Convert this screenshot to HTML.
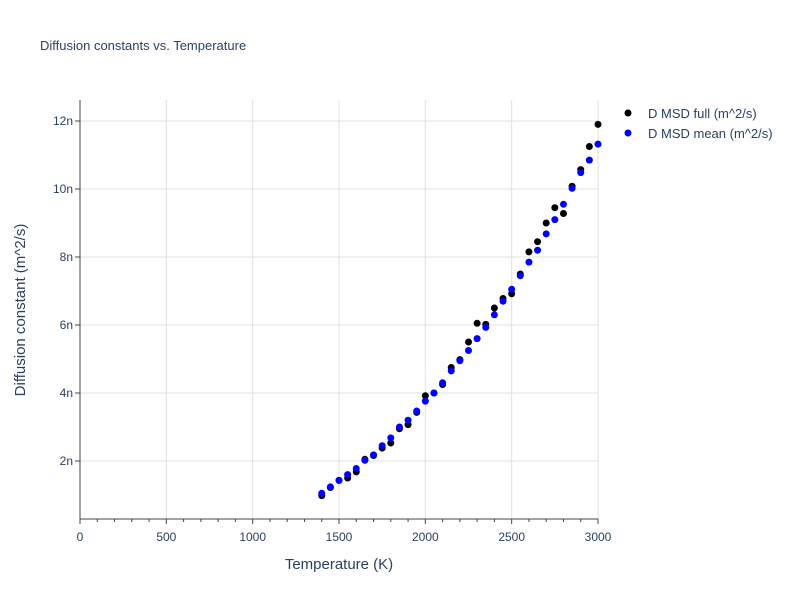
<!DOCTYPE html>
<html><head><meta charset="utf-8"><style>
body{margin:0;background:#fff;font-family:"Liberation Sans",sans-serif;}
svg text{font-family:"Liberation Sans",sans-serif;fill:#2a3f5f;}
</style></head><body>
<svg id="chart" width="800" height="600">
<rect width="800" height="600" fill="#fff"/>
<text x="40" y="50" font-size="13">Diffusion constants vs. Temperature</text>
<g id="grid"></g><g id="axes"></g><g id="marks"></g>
<text x="339" y="569" font-size="15" text-anchor="middle">Temperature (K)</text>
<text transform="translate(25,310) rotate(-90)" font-size="15" text-anchor="middle">Diffusion constant (m^2/s)</text>
<g>
<g><circle cx="628" cy="113" r="3.5" fill="#000"/><text x="648" y="118" font-size="13">D MSD full (m^2/s)</text></g>
<g><circle cx="628" cy="133" r="3.5" fill="#00f"/><text x="648" y="138" font-size="13">D MSD mean (m^2/s)</text></g>
</g>
</svg>
<script>
const temps=[1400,1450,1500,1550,1600,1650,1700,1750,1800,1850,1900,1950,2000,2050,2100,2150,2200,2250,2300,2350,2400,2450,2500,2550,2600,2650,2700,2750,2800,2850,2900,2950,3000];
const dFull=[0.98,1.22,1.43,1.50,1.68,2.05,2.16,2.38,2.53,2.95,3.07,3.43,3.92,4.00,4.25,4.75,4.98,5.50,6.05,6.02,6.50,6.78,6.92,7.50,8.15,8.45,9.00,9.45,9.28,10.08,10.57,11.25,11.90];
const dMean=[1.05,1.24,1.43,1.60,1.78,2.02,2.18,2.45,2.68,3.00,3.20,3.47,3.76,4.00,4.30,4.65,4.95,5.25,5.60,5.93,6.30,6.70,7.05,7.45,7.85,8.20,8.68,9.10,9.55,10.02,10.48,10.85,11.32];
const xTicks=[0,500,1000,1500,2000,2500,3000];
const yTicks=[2,4,6,8,10,12];
const yLabels=["2n","4n","6n","8n","10n","12n"];
const NS="http://www.w3.org/2000/svg";
const X=v=>80+v*518/3000;
const Y=v=>529-v*34;
function mk(t,a,p){const e=document.createElementNS(NS,t);for(const k in a)e.setAttribute(k,a[k]);p.appendChild(e);return e;}
const grid=document.getElementById('grid'),axes=document.getElementById('axes'),marks=document.getElementById('marks');
xTicks.forEach(t=>{
 if(t>0){const l=mk('line',{x1:X(t),x2:X(t),y1:100,y2:519,stroke:'#e0e0e0'},grid);
 
 }
 const tk=mk('line',{x1:X(t),x2:X(t),y1:519,y2:524,stroke:'#444'},axes);
 
 
 const tx=mk('text',{x:X(t),y:541,'font-size':12,'text-anchor':'middle'},axes);tx.textContent=t;
 
 
});
for(let t=100;t<3000;t+=100){if(t%500){const m=mk('line',{x1:X(t),x2:X(t),y1:519,y2:522,stroke:'#444'},axes);
 
 }}
yTicks.forEach((t,i)=>{
 const l=mk('line',{x1:80,x2:598,y1:Y(t),y2:Y(t),stroke:'#e0e0e0'},grid);
 
 
 const tk=mk('line',{x1:75,x2:80,y1:Y(t),y2:Y(t),stroke:'#444'},axes);
 
 
 const tx=mk('text',{x:73,y:Y(t)+4,'font-size':12,'text-anchor':'end'},axes);tx.textContent=yLabels[i];
 
 
});
const xa=mk('line',{x1:80,x2:598,y1:519,y2:519,stroke:'#444'},axes);


const ya=mk('line',{x1:80,x2:80,y1:100,y2:519,stroke:'#444'},axes);


temps.forEach((t,i)=>{
 const a=mk('circle',{cx:X(t),cy:Y(dFull[i]),r:3.5,fill:'#000'},marks);
 
 
});
temps.forEach((t,i)=>{
 const b=mk('circle',{cx:X(t),cy:Y(dMean[i]),r:3.5,fill:'#00f'},marks);
 
 
});
</script>
</body></html>
